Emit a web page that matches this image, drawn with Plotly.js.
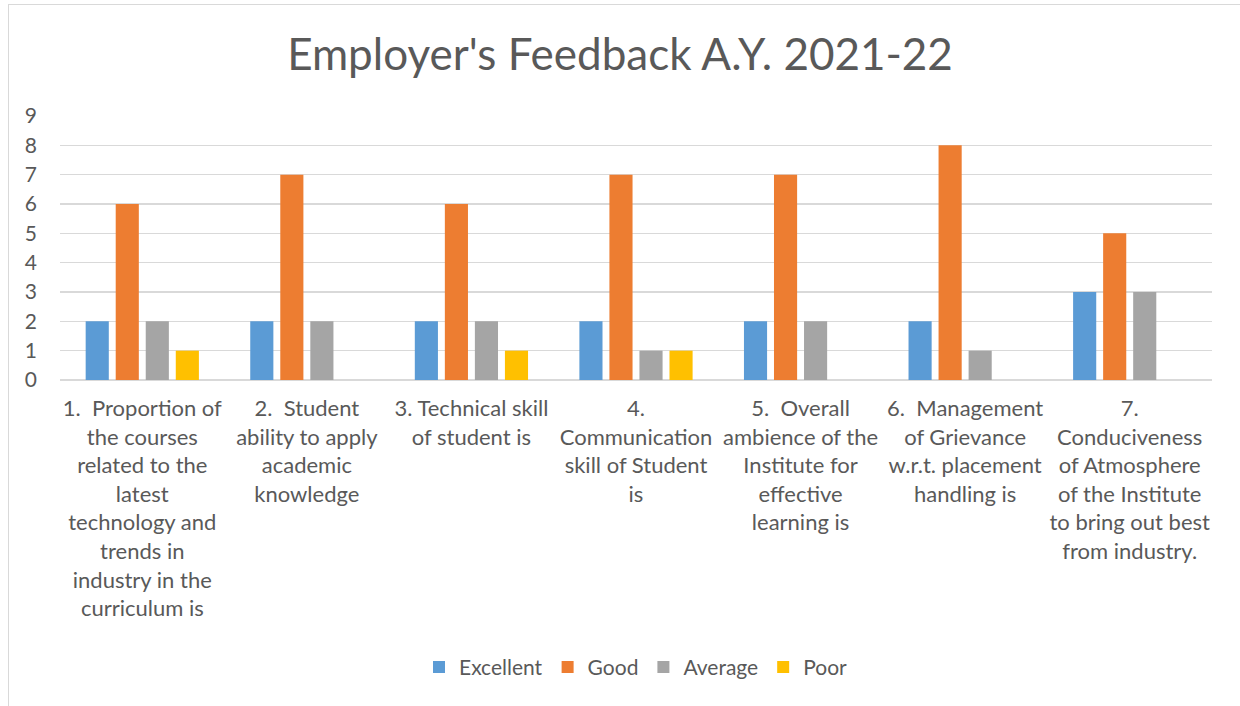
<!DOCTYPE html>
<html><head><meta charset="utf-8">
<script src="https://cdn.plot.ly/plotly-3.0.1.min.js"></script>
<style>
html,body{margin:0;padding:0;background:#fff;}
#chart{width:1240px;height:706px;}
#frame{position:absolute;left:8px;top:4px;width:1240px;height:720px;border:1px solid #d9d9d9;pointer-events:none;}
</style></head><body>
<div id="chart"></div><div id="frame"></div>
<script>
const categories = [
  "1.  Proportion of<br>the courses<br>related to the<br>latest<br>technology and<br>trends in<br>industry in the<br>curriculum is",
  "2.  Student<br>ability to apply<br>academic<br>knowledge",
  "3. Technical skill<br>of student is",
  "4.<br>Communication<br>skill of Student<br>is",
  "5.  Overall<br>ambience of the<br>Institute for<br>effective<br>learning is",
  "6.  Management<br>of Grievance<br>w.r.t. placement<br>handling is",
  "7.<br>Conduciveness<br>of Atmosphere<br>of the Institute<br>to bring out best<br>from industry."
];
const excellent = [2, 2, 2, 2, 2, 2, 3];
const good      = [6, 7, 6, 7, 7, 8, 5];
const average   = [2, 2, 2, 1, 2, 1, 3];
const poor      = [1, 0, 1, 1, 0, 0, 0];
const seriesNames = ["Excellent", "Good", "Average", "Poor"];
const colors = ["#5B9BD5", "#ED7D31", "#A5A5A5", "#FFC000"];
const values = [excellent, good, average, poor];

const traces = values.map((v, i) => ({
  type: 'bar', x: categories, y: v, name: seriesNames[i],
  marker: {color: colors[i]}, hoverinfo: 'skip'
}));

const font = "Lato, 'Open Sans', sans-serif";
const layout = {
  width: 1240, height: 706,
  margin: {l: 60, r: 28, t: 116, b: 326},
  paper_bgcolor: '#fff', plot_bgcolor: '#fff',
  font: {family: font, color: '#595959', size: 21},
  title: {text: "Employer's Feedback A.Y. 2021-22", x: 0.5, xanchor: 'center', y: 0.922, yanchor: 'middle',
          font: {family: font, size: 44, color: '#595959'}},
  barmode: 'group', bargap: 0.27, bargroupgap: 0.23,
  xaxis: {tickangle: 0, showgrid: false, showline: false, zeroline: false, ticks: '',
          ticklabelstandoff: 13,
          tickfont: {family: font, size: 22, color: '#595959'}, automargin: false},
  yaxis: {range: [0, 9], dtick: 1, showgrid: true, gridcolor: '#D9D9D9', gridwidth: 1.5,
          zeroline: true, zerolinecolor: '#D9D9D9', zerolinewidth: 1.5, showline: false, ticks: '',
          ticklabelstandoff: 22, tickfont: {family: font, size: 21, color: '#595959'}, automargin: false},
  legend: {orientation: 'h', x: 0.5, xanchor: 'center', y: -1.088, yanchor: 'middle',
           font: {family: font, size: 21, color: '#595959'}, itemwidth: 20, traceorder: 'normal'},
  showlegend: true
};
Plotly.newPlot('chart', traces, layout, {displayModeBar: false, staticPlot: true});
</script></body></html>
